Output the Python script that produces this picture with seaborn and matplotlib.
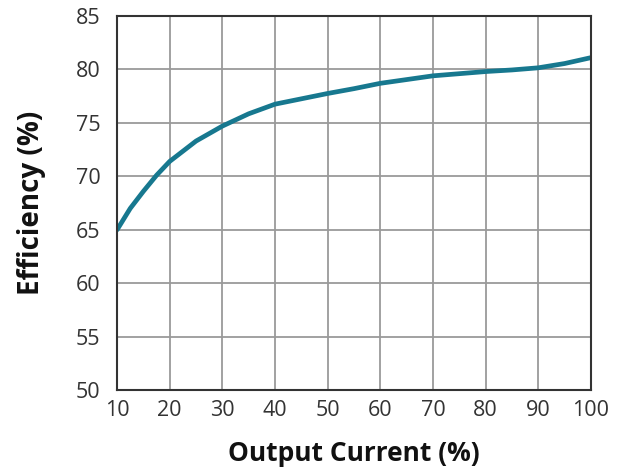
import pandas as pd
import matplotlib
matplotlib.use("Agg")
import matplotlib.pyplot as plt
import seaborn as sns

# values
output_current = [10, 12.5, 15, 17.5, 20, 25, 30, 35, 40, 45, 50, 55, 60, 65, 70, 75, 80, 85, 90, 95, 100]
efficiency = [65.0, 67.0, 68.6, 70.1, 71.4, 73.3, 74.7, 75.85, 76.75, 77.25, 77.75, 78.2, 78.7,
              79.05, 79.4, 79.6, 79.8, 79.95, 80.15, 80.55, 81.1]
x_ticks = [10, 20, 30, 40, 50, 60, 70, 80, 90, 100]
y_ticks = [50, 55, 60, 65, 70, 75, 80, 85]

sns.set_style("white")
plt.rcParams['font.family'] = ['Open Sans', 'DejaVu Sans']

df = pd.DataFrame({"current": output_current, "eff": efficiency})

fig, ax = plt.subplots(figsize=(6.26, 4.69), dpi=100)
fig.subplots_adjust(left=0.187, right=0.944, top=0.966, bottom=0.168)

sns.lineplot(data=df, x="current", y="eff", ax=ax, color="#17788f", linewidth=3.4,
             solid_capstyle="round", solid_joinstyle="round")

ax.set_xlim(10, 100)
ax.set_ylim(50, 85)
ax.set_xticks(x_ticks)
ax.set_yticks(y_ticks)
ax.grid(True, color="#9a9a9a", linewidth=1.3)
ax.set_axisbelow(True)
for s in ax.spines.values():
    s.set_color("#333333")
    s.set_linewidth(1.5)

ax.tick_params(axis="both", length=0, labelsize=15.5, colors="#333333")
ax.tick_params(axis="y", pad=12)
ax.tick_params(axis="x", pad=7)

ax.set_xlabel("Output Current (%)", fontsize=19, fontweight="bold", labelpad=14, color="#111111")
ax.set_ylabel("Efficiency (%)", fontsize=20, fontweight="bold", labelpad=21, color="#111111")

plt.savefig("out.png", dpi=100)
